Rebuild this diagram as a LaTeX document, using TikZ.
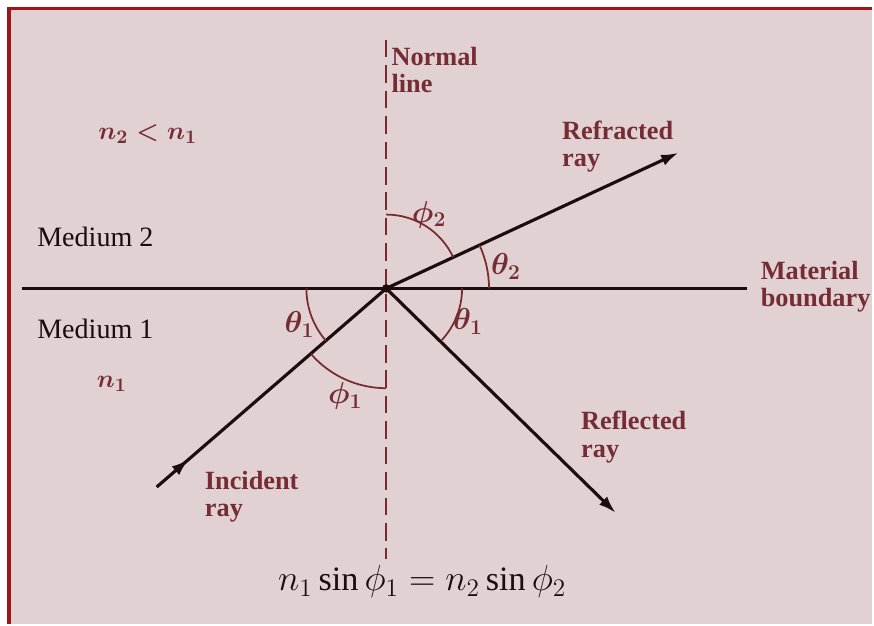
\documentclass[tikz,border=0pt]{standalone}
\usepackage{amsmath,amssymb}
\usepackage{fontspec}
\setmainfont{Liberation Serif}
\usepackage{xcolor}
\usetikzlibrary{arrows.meta,positioning,decorations.markings,calc}

\definecolor{bgpink}{RGB}{226,209,210}
\definecolor{bordred}{RGB}{160,20,24}
\definecolor{raydark}{RGB}{28,12,14}
\definecolor{arcbrown}{RGB}{122,42,44}
\definecolor{labelred}{RGB}{118,44,52}

\tikzset{
  ray/.style={line width=1.8pt,draw=raydark},
  angarc/.style={line width=1pt,draw=arcbrown},
  lbl/.style={text=labelred,font=\fontsize{15}{15.5}\selectfont\bfseries,align=left,inner sep=0pt},
  medlbl/.style={text=raydark,font=\fontsize{16}{18}\selectfont,inner sep=0pt},
  anglbl/.style={text=labelred,font=\fontsize{17}{18}\selectfont\boldmath,inner sep=0pt},
  tip/.style={-{Latex[length=10pt,width=6.5pt]}}
}

\begin{document}
\begin{tikzpicture}[x=0.02cm,y=0.02cm]
  % frame
  \fill[white] (0,0) rectangle (874,625);
  \fill[bgpink] (7,0) rectangle (874,618);
  \draw[bordred,line width=2pt] (9,0)--(9,616.5)--(874,616.5);
  \useasboundingbox (0,0) rectangle (874,625);

  % points
  \coordinate (O) at (387,336);
  \coordinate (bl) at (22,336);
  \coordinate (br) at (748,336);
  \coordinate (nt) at (387,585);
  \coordinate (nb) at (387,65);
  \coordinate (inc) at (157,137);
  \coordinate (refr) at (680,472);
  \coordinate (refl) at (617,111);

  % normal and boundary
  \draw[arcbrown,line width=1.3pt,dash pattern=on 10pt off 4.5pt] (nt)--(nb);
  \draw[ray] (bl)--(br);

  % rays
  \draw[ray,decoration={markings,mark=at position 0.14 with {\arrow{Latex[length=10pt,width=6.5pt]}}},postaction={decorate}] (inc)--(O);
  \draw[ray,tip] (O)--(refr);
  \draw[ray,tip] (O)--(refl);
  \fill[raydark] (O) circle (2.4pt);

  % angles
  \draw[angarc] ($(O)+(103,0)$) arc (0:25:103);
  \draw[angarc] ($(O)+(25:74)$) arc (25:90:74);
  \draw[angarc] ($(O)+(76,0)$) arc (0:-43:76);
  \draw[angarc] ($(O)+(-80,0)$) arc (180:221:80);
  \draw[angarc] ($(O)+(221:100)$) arc (221:270:100);

  \node[anglbl] (phi2) at (430,410) {$\phi_2$};
  \node[anglbl] (th2) at (507,358) {$\theta_2$};
  \node[anglbl] (th1r) at (469,303) {$\theta_1$};
  \node[anglbl] (th1l) at (300,300) {$\theta_1$};
  \node[anglbl] (phi1) at (346,228) {$\phi_1$};

  % labels
  \node[lbl,anchor=west] (normal) at (392,555) {Normal\\line};
  \node[lbl,font=\fontsize{15}{16}\selectfont\boldmath] (ratio) at (148,491) {$n_2<n_1$};
  \node[medlbl,anchor=west] (med2) at (37,388) {Medium 2};
  \node[medlbl,anchor=west] (med1) at (37,295) {Medium 1};
  \node[lbl,font=\fontsize{15}{16}\selectfont\boldmath] (n1) at (112,240) {$n_1$};
  \node[lbl,anchor=west] (refrlbl) at (563,478) {Refracted\\ray};
  \node[lbl,anchor=west] (boundlbl) at (762,338) {Material\\boundary};
  \node[lbl,anchor=west] (refllbl) at (582,187) {Reflected\\ray};
  \node[lbl,anchor=west] (inclbl) at (205,127) {Incident\\ray};

  \node[text=raydark,font=\fontsize{19.5}{21}\selectfont,inner sep=0pt] (snell) at (423,42)
    {$n_1\sin\phi_1 = n_2\sin\phi_2$};
\end{tikzpicture}
\end{document}
